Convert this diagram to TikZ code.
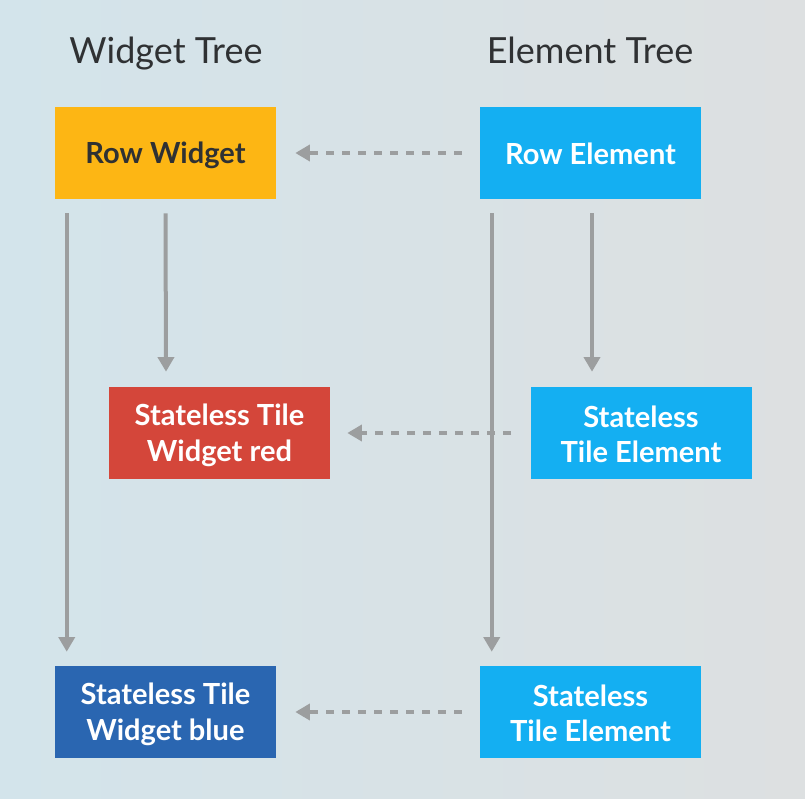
\documentclass[tikz,border=0pt]{standalone}
\usepackage{fontspec}
\setmainfont{Lato}
\usetikzlibrary{arrows.meta}
\definecolor{bgL}{HTML}{D3E4EB}
\definecolor{bgR}{HTML}{DDE0E1}
\definecolor{amber}{HTML}{FDB614}
\definecolor{skyb}{HTML}{14AFF2}
\definecolor{redw}{HTML}{D4463A}
\definecolor{bluew}{HTML}{2A66B1}
\definecolor{conn}{HTML}{9C9E9F}
\definecolor{ink}{HTML}{2F3133}
\newcommand\lstrut{\rule[-2.1pt]{0pt}{22pt}}
\begin{document}
\begin{tikzpicture}[x=0.75pt,y=-0.75pt,
  box/.style={minimum width=221*0.75pt,minimum height=92*0.75pt,inner sep=0pt,align=center,
    font=\fontsize{21.8pt}{26.5pt}\selectfont\bfseries,text=white},
  title/.style={font=\fontsize{27pt}{30pt}\selectfont,text=ink,text height=22pt,text depth=2.6pt},
  solidarr/.style={draw=conn,line width=3pt,-{Triangle[length=11pt,width=12pt]}},
  dasharr/.style={draw=conn,line width=3pt,dash pattern=on 6pt off 6pt,-{Triangle[length=11pt,width=12pt]}}]
\shade[left color=bgL,right color=bgR] (0,0) rectangle (805,798);
\useasboundingbox (0,0) rectangle (805,798);
\node[title] (wt) at (166,50.5) {Widget Tree};
\node[title] (et) at (590,50.5) {Element Tree};
\node[box,fill=amber,text=ink] (rw) at (165.5,153) {\lstrut Row Widget};
\node[box,fill=skyb] (re) at (590.5,153) {\lstrut Row Element};
\node[box,fill=redw] (sw) at (219.5,433) {\lstrut Stateless Tile\\\lstrut Widget red};
\node[box,fill=skyb] (se) at (641,433) {\lstrut Stateless\\\lstrut Tile Element};
\node[box,fill=bluew] (bw) at (165.5,712) {\lstrut Stateless Tile\\\lstrut Widget blue};
\node[box,fill=skyb] (be) at (590.5,712) {\lstrut Stateless\\\lstrut Tile Element};
% dashed arrows
\draw[dasharr] ([xshift=-18*0.75pt]re.west) -- ([xshift=19*0.75pt]rw.east);
\draw[dasharr] ([xshift=-19*0.75pt]se.west) -- ([xshift=17*0.75pt]sw.east);
\draw[dasharr] ([xshift=-18*0.75pt]be.west) -- ([xshift=19*0.75pt]bw.east);
% vertical arrows
\draw[solidarr] ([xshift=12*0.75pt,yshift=-14*0.75pt]rw.south west) -- ([xshift=12*0.75pt,yshift=14*0.75pt]bw.north west);
\draw[solidarr] ([yshift=-14*0.75pt]rw.south) -- ([xshift=166*0.75pt-219.5*0.75pt,yshift=15*0.75pt]sw.north);
\draw[solidarr] ([xshift=12*0.75pt,yshift=-14*0.75pt]re.south west) -- ([xshift=12*0.75pt,yshift=14*0.75pt]be.north west);
\draw[solidarr] ([xshift=1.5*0.75pt,yshift=-14*0.75pt]re.south) -- ([xshift=592*0.75pt-641*0.75pt,yshift=15*0.75pt]se.north);
\end{tikzpicture}
\end{document}
